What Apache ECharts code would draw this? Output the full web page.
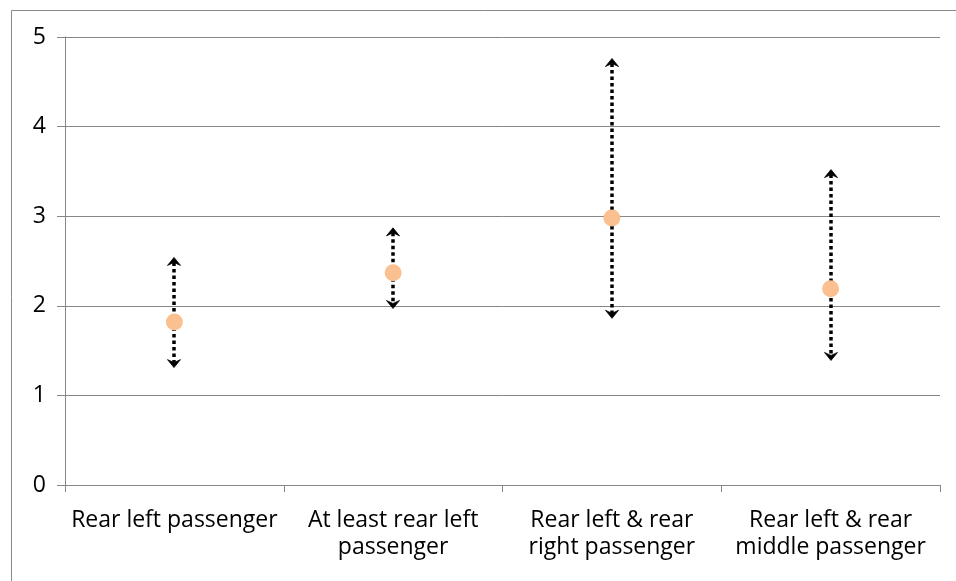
<!DOCTYPE html>
<html>
<head>
<meta charset="utf-8">
<script src="https://cdn.jsdelivr.net/npm/echarts@6/dist/echarts.min.js"></script>
<style>html,body{margin:0;padding:0;background:#fff}#c{width:956px;height:581px}</style>
</head>
<body>
<div id="c"></div>
<script>
var categories = ['Rear left passenger', 'At least rear left\npassenger', 'Rear left & rear\nright passenger', 'Rear left & rear\nmiddle passenger'];
var pointValues = [1.82, 2.37, 2.98, 2.19];
var lowValues = [1.31, 1.97, 1.86, 1.39];
var highValues = [2.54, 2.87, 4.76, 3.52];
var yTicks = [0, 1, 2, 3, 4, 5];

var FONT = "'Open Sans', sans-serif";
var chart = echarts.init(document.getElementById('c'), null, {renderer: 'canvas'});

var rangeData = categories.map(function (c, i) { return [i, lowValues[i], highValues[i]]; });

function arrowHead(x, y, dir) {
  // dir = -1 for pointing up, 1 for pointing down
  return {
    type: 'polygon',
    shape: { points: [[x, y], [x - 6.5, y - dir * 8], [x, y - dir * 5], [x + 6.5, y - dir * 8]] },
    style: { fill: '#000', stroke: '#000', lineWidth: 0.8 }
  };
}

chart.setOption({
  animation: false,
  graphic: [{
    type: 'rect', left: 9, top: 8, z: -1,
    shape: { x: 0, y: 0, width: 960, height: 600 },
    style: { fill: 'none', stroke: '#888', lineWidth: 1 }
  }],
  grid: { left: 65, right: 16, top: 37, bottom: 96, containLabel: false },
  xAxis: {
    type: 'category',
    data: categories,
    boundaryGap: true,
    axisLine: { show: true, lineStyle: { color: '#868686', width: 1 } },
    axisTick: { show: true, length: 7, lineStyle: { color: '#868686' }, alignWithLabel: false },
    axisLabel: { color: '#000', fontFamily: FONT, fontSize: 23, lineHeight: 27, margin: 22, interval: 0 },
    splitLine: { show: false }
  },
  yAxis: {
    type: 'value',
    min: 0, max: 5, interval: 1,
    axisLine: { show: true, lineStyle: { color: '#868686', width: 1 } },
    axisTick: { show: true, length: 8, lineStyle: { color: '#868686' } },
    axisLabel: { color: '#000', fontFamily: FONT, fontSize: 23, margin: 19,
      formatter: function (v) { return yTicks.indexOf(v) >= 0 ? String(v) : ''; } },
    splitLine: { show: true, lineStyle: { color: '#868686', width: 1 } }
  },
  series: [{
    type: 'custom',
    data: rangeData,
    z: 2,
    renderItem: function (params, api) {
      var lo = api.coord([api.value(0), api.value(1)]);
      var hi = api.coord([api.value(0), api.value(2)]);
      var x = Math.round(lo[0]);
      return {
        type: 'group',
        children: [
          { type: 'line', shape: { x1: x, y1: hi[1] + 5, x2: x, y2: lo[1] - 5 },
            style: { stroke: '#000', lineWidth: 3.5, lineDash: [3.5, 3] } },
          arrowHead(x, hi[1], -1),
          arrowHead(x, lo[1], 1)
        ]
      };
    }
  }, {
    type: 'scatter',
    data: pointValues,
    symbol: 'circle',
    symbolSize: 17,
    z: 3,
    itemStyle: { color: '#FAC090', opacity: 1 }
  }]
});
</script>
</body>
</html>
